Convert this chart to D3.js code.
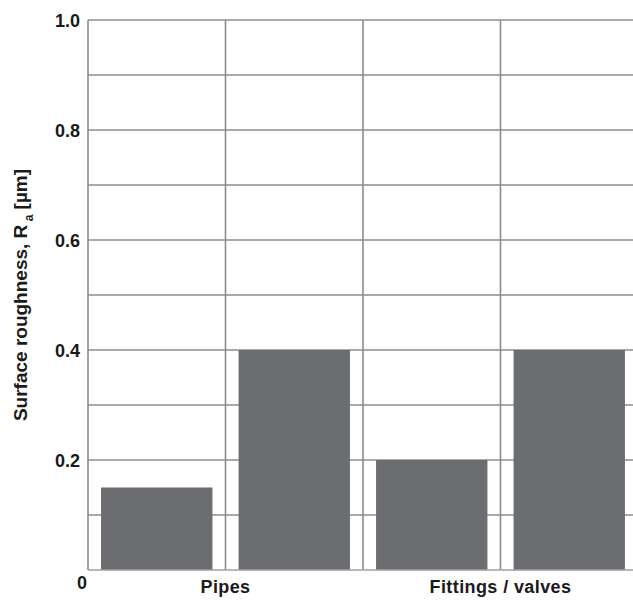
<!DOCTYPE html>
<html>
<head>
<meta charset="utf-8">
<script src="https://cdn.jsdelivr.net/npm/d3@7"></script>
<style>
  html, body { margin: 0; padding: 0; background: #fff; }
  svg { display: block; overflow: hidden; }
  text { font-family: "Liberation Sans", Arial, sans-serif; font-weight: bold; fill: #1a1a1a; }
</style>
</head>
<body>
<svg id="chart" width="633" height="600"></svg>
<script>
const groups = ["Pipes", "Fittings / valves"];
const subgroups = ["A", "B"];
const values = [
  [0.15, 0.40],
  [0.20, 0.40]
];
const yTickLabels = ["0.2", "0.4", "0.6", "0.8", "1.0"];
const yTicks = [0.2, 0.4, 0.6, 0.8, 1.0];
const yGrid = [0.1, 0.2, 0.3, 0.4, 0.5, 0.6, 0.7, 0.8, 0.9, 1.0];

const svg = d3.select("#chart");
const mLeft = 88, mRight = 638, mTop = 20, mBottom = 570;

const y = d3.scaleLinear().domain([0, 1]).range([mBottom, mTop]);
const x0 = d3.scaleBand().domain(groups).range([mLeft, mRight]).padding(0);
const x1 = d3.scaleBand().domain(subgroups).range([0, x0.bandwidth()])
  .paddingInner(0.19).paddingOuter(0.095);

const gridColor = "#8c8c8c";

// horizontal grid
svg.append("g").selectAll("line").data(yGrid).join("line")
  .attr("x1", mLeft).attr("x2", mRight)
  .attr("y1", d => y(d)).attr("y2", d => y(d))
  .attr("stroke", gridColor).attr("stroke-width", 1.6);

// vertical grid (cell boundaries)
const vlines = [];
groups.forEach(g => subgroups.forEach((s, i) => vlines.push(x0(g) + i * x1.step())));
svg.append("g").selectAll("line").data(vlines).join("line")
  .attr("x1", d => d).attr("x2", d => d)
  .attr("y1", mTop).attr("y2", mBottom)
  .attr("stroke", gridColor).attr("stroke-width", 1.6);

// bars
const data = [];
groups.forEach((g, gi) => subgroups.forEach((s, si) => data.push({ g, s, v: values[gi][si] })));
svg.append("g").selectAll("rect").data(data).join("rect")
  .attr("x", d => x0(d.g) + x1(d.s))
  .attr("width", x1.bandwidth())
  .attr("y", d => y(d.v))
  .attr("height", d => y(0) - y(d.v))
  .attr("fill", "#6c6d71");

// bottom axis line
svg.append("line")
  .attr("x1", mLeft).attr("x2", mRight)
  .attr("y1", y(0)).attr("y2", y(0))
  .attr("stroke", "#a0a0a0").attr("stroke-width", 1.6);

// y tick labels
svg.append("g").selectAll("text").data(yTicks).join("text")
  .attr("x", 80).attr("y", d => y(d) + 6.5)
  .attr("text-anchor", "end")
  .style("font-size", "18px")
  .text((d, i) => yTickLabels[i]);

svg.append("text")
  .attr("x", 87).attr("y", y(0) + 19)
  .attr("text-anchor", "end")
  .style("font-size", "18px")
  .text("0");

// group labels
svg.append("g").selectAll("text").data(groups).join("text")
  .attr("x", g => x0(g) + x0.bandwidth() / 2)
  .attr("y", 593)
  .attr("text-anchor", "middle")
  .style("font-size", "18px")
  .style("letter-spacing", "0.4px")
  .text(g => g);

// y-axis title
const title = svg.append("text")
  .attr("transform", "translate(27,295) rotate(-90)")
  .attr("text-anchor", "middle")
  .style("font-size", "19px");
title.append("tspan").text("Surface roughness, R");
title.append("tspan").attr("dy", 6).style("font-size", "12px").text(" a");
title.append("tspan").attr("dy", -6).text(" [µm]");
</script>
</body>
</html>
